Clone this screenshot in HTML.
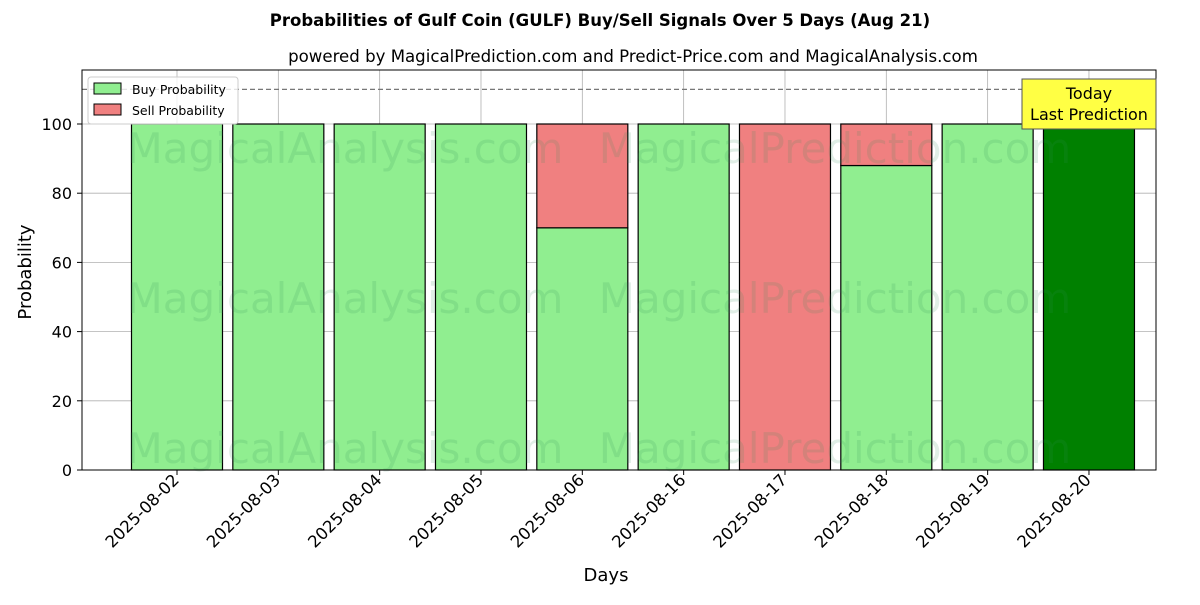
<!DOCTYPE html>
<html><head><meta charset="utf-8">
<style>
body{margin:0;background:#fff;font-family:"Liberation Sans","DejaVu Sans",sans-serif;}
svg text{font-family:"DejaVu Sans","Liberation Sans",sans-serif;}
</style></head>
<body>
<svg id="chart" width="1200" height="600" xmlns="http://www.w3.org/2000/svg">
<text x="600" y="26" text-anchor="middle" font-size="16.5" font-weight="bold">Probabilities of Gulf Coin (GULF) Buy/Sell Signals Over 5 Days (Aug 21)</text>
<text x="633" y="62" text-anchor="middle" font-size="16.6">powered by MagicalPrediction.com and Predict-Price.com and MagicalAnalysis.com</text>
<g id="grid"></g>
<g id="bars"></g>
<g id="wm" font-size="42" fill="#2e8b57" fill-opacity="0.15">
<text x="345" y="163" text-anchor="middle">MagicalAnalysis.com</text>
<text x="835" y="163" text-anchor="middle">MagicalPrediction.com</text>
<text x="345" y="313" text-anchor="middle">MagicalAnalysis.com</text>
<text x="835" y="313" text-anchor="middle">MagicalPrediction.com</text>
<text x="345" y="463" text-anchor="middle">MagicalAnalysis.com</text>
<text x="835" y="463" text-anchor="middle">MagicalPrediction.com</text>
</g>
<line x1="82" y1="89.4" x2="1156" y2="89.4" stroke="#777" stroke-dasharray="5,3" stroke-width="1.2"/>
<rect x="82" y="70" width="1074" height="400" fill="none" stroke="#000" stroke-width="1"/>
<g id="axes"></g>
<g>
<rect x="1022" y="79" width="134" height="50" fill="#ffff44" stroke="#555" stroke-width="1"/>
<text x="1089" y="99" text-anchor="middle" font-size="16">Today</text>
<text x="1089" y="120" text-anchor="middle" font-size="16">Last Prediction</text>
</g>
<g>
<rect x="88" y="77" width="150" height="47" fill="#fff" fill-opacity="0.8" stroke="#ccc" rx="3"/>
<rect x="94" y="83" width="27" height="11" fill="#90ee90" stroke="#000"/>
<text x="132" y="94" font-size="12.5">Buy Probability</text>
<rect x="94" y="104" width="27" height="11" fill="#f08080" stroke="#000"/>
<text x="132" y="115" font-size="12.5">Sell Probability</text>
</g>
<text x="606" y="581" text-anchor="middle" font-size="18">Days</text>
<text x="31" y="272" text-anchor="middle" font-size="18" transform="rotate(-90 31 272)">Probability</text>
</svg>
<script>
const categories=["2025-08-02","2025-08-03","2025-08-04","2025-08-05","2025-08-06","2025-08-16","2025-08-17","2025-08-18","2025-08-19","2025-08-20"];
const buyValues=[100,100,100,100,70,100,0,88,100,100];
const sellValues=[0,0,0,0,30,0,100,12,0,0];
const yTicks=[0,20,40,60,80,100];
const NS="http://www.w3.org/2000/svg";
const x=i=>177+i*101.33;
const y=v=>470-v*3.46;
const bw=91;
function mk(tag,attrs,parent,txt){const e=document.createElementNS(NS,tag);for(const k in attrs)e.setAttribute(k,attrs[k]);if(txt!==undefined)e.textContent=txt;parent.appendChild(e);return e;}
const grid=document.getElementById('grid'),bars=document.getElementById('bars'),axes=document.getElementById('axes');
yTicks.forEach(t=>{
 const g=mk('line',{x1:82,x2:1156,y1:y(t),y2:y(t),stroke:'#b0b0b0','stroke-width':0.8},grid);
 
 
 mk('line',{x1:77,x2:82,y1:y(t),y2:y(t),stroke:'#000'},axes);
 const l=mk('text',{x:72,y:y(t)+6,'text-anchor':'end','font-size':16},axes,String(t));
 
 
});
categories.forEach((c,i)=>{
 const g=mk('line',{x1:x(i),x2:x(i),y1:70,y2:470,stroke:'#b0b0b0','stroke-width':0.8},grid);
 
 
 const last=i===categories.length-1;
 const b=mk('rect',{x:x(i)-bw/2,y:y(buyValues[i]),width:bw,height:y(0)-y(buyValues[i]),fill:last?'#008000':'#90ee90',stroke:'#000','stroke-width':1.2},bars);
 
 
 if(sellValues[i]>0){
  const s=mk('rect',{x:x(i)-bw/2,y:y(buyValues[i]+sellValues[i]),width:bw,height:y(buyValues[i])-y(buyValues[i]+sellValues[i]),fill:'#f08080',stroke:'#000','stroke-width':1.2},bars);
  
  
 }
 mk('line',{x1:x(i),x2:x(i),y1:470,y2:475,stroke:'#000'},axes);
 const lx=x(i)+3, ly=481;
 const l=mk('text',{x:lx,y:ly,'text-anchor':'end','font-size':16.5,transform:`rotate(-45 ${lx} ${ly})`},axes,c);
 
 
});
</script>
</body></html>
